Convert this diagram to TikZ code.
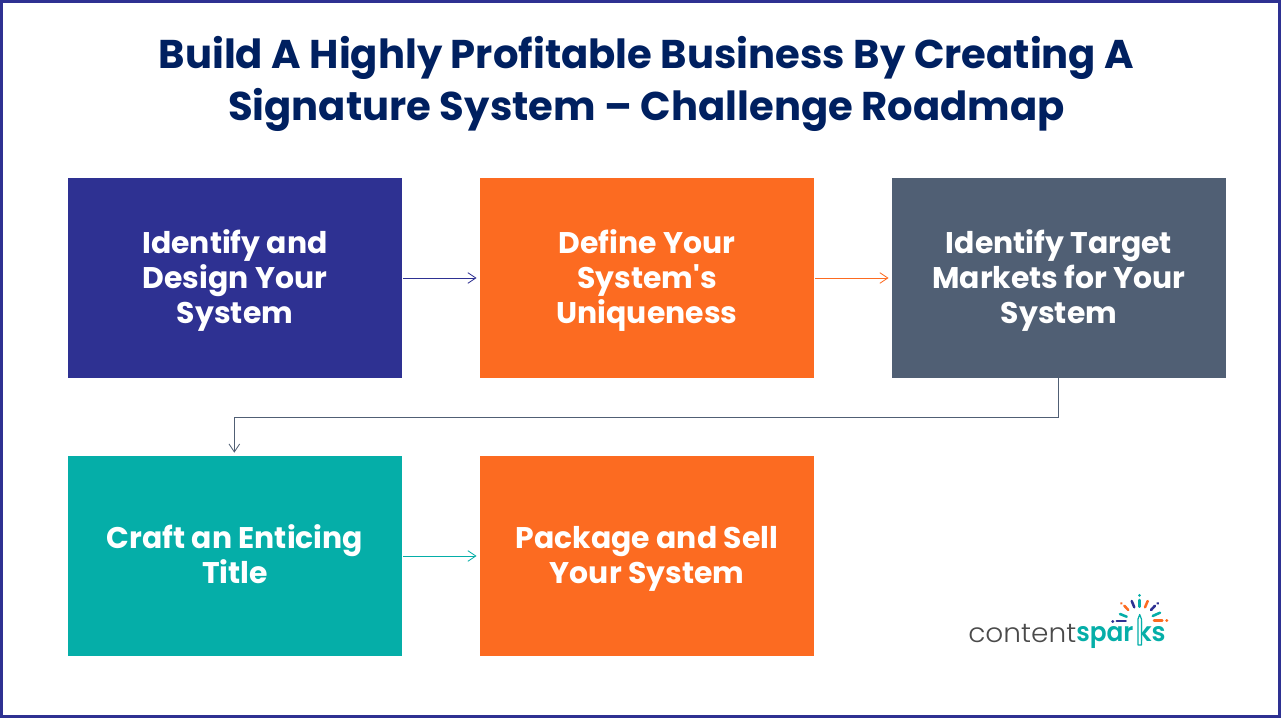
\documentclass[tikz,border=0pt]{standalone}
\usepackage{fontspec}
\setmainfont{Poppins}
\newfontfamily\straightq{Poppins}
\newfontfamily\logolight{Poppins Light}
\newfontfamily\logomed{Poppins SemiBold}
\usetikzlibrary{arrows.meta}
\definecolor{navy}{HTML}{002060}
\definecolor{indigoc}{HTML}{2E3192}
\definecolor{orangec}{HTML}{FC6B21}
\definecolor{slatec}{HTML}{505F74}
\definecolor{tealc}{HTML}{05AEA8}
\definecolor{greyc}{HTML}{4A4A4A}
\tikzset{
  x=0.75pt,y=-0.75pt,
  stepbox/.style={minimum width=250.5pt,minimum height=150pt,inner sep=0pt,outer sep=0pt},
  steptext/.style={inner sep=0pt,align=center,text=white,font=\fontsize{22.4pt}{26.6pt}\selectfont\bfseries},
  link/.style={line width=0.6pt,-{Straight Barb[length=6pt,width=8pt,line width=0.6pt]}},
  spark/.style={line width=1.9pt,line cap=round},
  sparkdot/.style={line width=2.2pt,line cap=round}
}
\begin{document}
\begin{tikzpicture}
\useasboundingbox (0,0) rectangle (1281,718);
\draw[indigoc,line width=2.25pt] (1.5,1.5) rectangle (1279.5,716.5);
\node[text=navy,align=center,font=\fontsize{30.1pt}{39pt}\selectfont\bfseries] (title) at (646.5,84) {Build A Highly Profitable Business By Creating A\\Signature System – Challenge Roadmap};
\node[stepbox,fill=indigoc] (a) at (235,278) {};
\node[stepbox,fill=orangec] (b) at (647,278) {};
\node[stepbox,fill=slatec] (c) at (1059,278) {};
\node[stepbox,fill=tealc] (d) at (235,556) {};
\node[stepbox,fill=orangec] (e) at (647,556) {};
\node[steptext] (ta) at (235,280.5) {Identify and\\Design Your\\System};
\node[steptext] (tb) at (647,280.5) {Define Your\\System{\straightq\bfseries '}s\\Uniqueness};
\node[steptext] (tc) at (1059,280.5) {Identify Target\\Markets for Your\\System};
\node[steptext] (td) at (235,554) {Craft an Enticing\\Title};
\node[steptext] (te) at (647,559) {Package and Sell\\Your System};
\draw[link,indigoc] ([xshift=1pt]a.east) -- ([xshift=-2.6pt]b.west);
\draw[link,orangec] ([xshift=1pt]b.east) -- ([xshift=-2.6pt]c.west);
\draw[link,slatec] ([xshift=-0.5pt]c.south) -- ++(0,39.5) -| ([xshift=-0.5pt,yshift=2.5pt]d.north);
\draw[link,tealc] ([xshift=1pt]d.east) -- ([xshift=-2.6pt]e.west);
% logo
\node[anchor=base west,inner sep=0pt,text=greyc,xscale=1.05,font=\fontsize{20pt}{20pt}\logolight] (lc) at (968,642) {content};
\node[anchor=base west,inner sep=0pt,text=tealc,xscale=0.93,font=\fontsize{20pt}{20pt}\logomed] (ls) at (1076,641) {spar};
\node[anchor=base west,inner sep=0pt,text=tealc,xscale=0.96,font=\fontsize{20pt}{20pt}\logomed] (lk) at (1136.5,641) {ks};
\draw[tealc,fill=white,line width=0.9pt,line join=round] (1138,645) -- (1138,619) -- (1139.7,614.5) -- (1141.4,619) -- (1141.4,645) -- cycle;
\draw[spark,tealc] (1139.3,600) -- (1139.3,606.7);
\draw[sparkdot,tealc] (1139.3,595.3) -- (1139.3,595.4);
\draw[sparkdot,orangec] (1121.3,603.3) -- (1121.4,603.4);
\draw[spark,orangec] (1124.3,605.7) -- (1128.3,610);
\draw[spark,indigoc] (1131.7,601) -- (1134.3,607.3);
\draw[spark,orangec] (1147.7,601) -- (1145,607.3);
\draw[sparkdot,indigoc] (1157.7,603.3) -- (1157.6,603.4);
\draw[spark,indigoc] (1155,605.7) -- (1151,610);
\draw[spark,tealc] (1120,614) -- (1126.7,616.7);
\draw[spark,tealc] (1160,612.7) -- (1152.7,616);
\draw[sparkdot,indigoc] (1112.7,621.3) -- (1112.8,621.3);
\draw[spark,indigoc] (1116.7,621) -- (1125.7,621);
\draw[spark,orangec] (1154,620.7) -- (1162.3,620.7);
\draw[sparkdot,orangec] (1166.7,620.7) -- (1166.8,620.7);
\end{tikzpicture}
\end{document}
